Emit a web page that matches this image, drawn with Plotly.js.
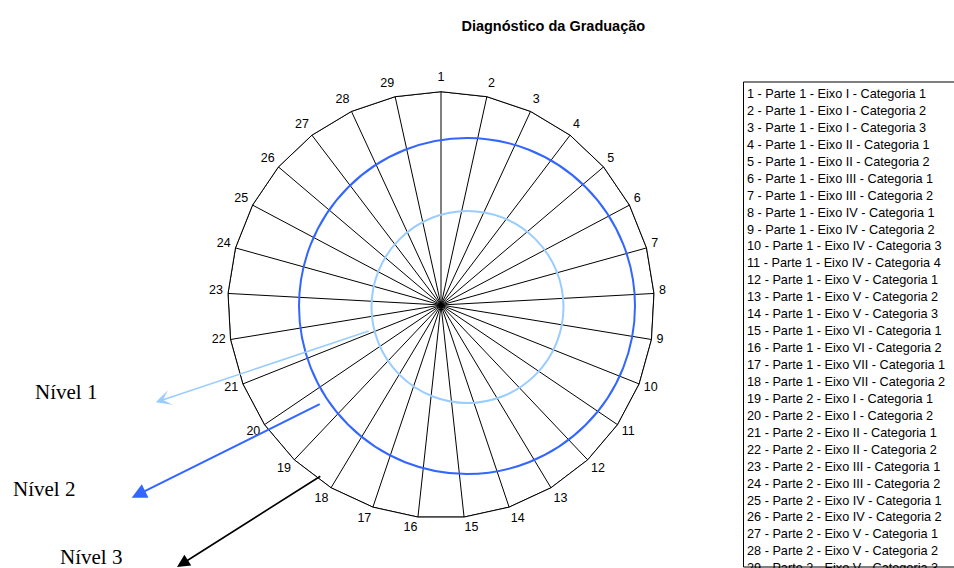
<!DOCTYPE html>
<html>
<head>
<meta charset="utf-8">
<script src="https://cdn.plot.ly/plotly-3.0.1.min.js"></script>
<style>html,body{margin:0;padding:0;background:#fff;}#chart{width:954px;height:568px;}</style>
</head>
<body>
<div id="chart"></div>
<script>
const categories = ['1','2','3','4','5','6','7','8','9','10','11','12','13','14','15','16','17','18','19','20','21','22','23','24','25','26','27','28','29'];
const level3Values = [3,3,3,3,3,3,3,3,3,3,3,3,3,3,3,3,3,3,3,3,3,3,3,3,3,3,3,3,3];
const legendLabels = [
  '1 - Parte 1 - Eixo I - Categoria 1',
  '2 - Parte 1 - Eixo I - Categoria 2',
  '3 - Parte 1 - Eixo I - Categoria 3',
  '4 - Parte 1 - Eixo II - Categoria 1',
  '5 - Parte 1 - Eixo II - Categoria 2',
  '6 - Parte 1 - Eixo III - Categoria 1',
  '7 - Parte 1 - Eixo III - Categoria 2',
  '8 - Parte 1 - Eixo IV - Categoria 1',
  '9 - Parte 1 - Eixo IV - Categoria 2',
  '10 - Parte 1 - Eixo IV - Categoria 3',
  '11 - Parte 1 - Eixo IV - Categoria 4',
  '12 - Parte 1 - Eixo V - Categoria 1',
  '13 - Parte 1 - Eixo V - Categoria 2',
  '14 - Parte 1 - Eixo V - Categoria 3',
  '15 - Parte 1 - Eixo VI - Categoria 1',
  '16 - Parte 1 - Eixo VI - Categoria 2',
  '17 - Parte 1 - Eixo VII - Categoria 1',
  '18 - Parte 1 - Eixo VII - Categoria 2',
  '19 - Parte 2 - Eixo I - Categoria 1',
  '20 - Parte 2 - Eixo I - Categoria 2',
  '21 - Parte 2 - Eixo II - Categoria 1',
  '22 - Parte 2 - Eixo II - Categoria 2',
  '23 - Parte 2 - Eixo III - Categoria 1',
  '24 - Parte 2 - Eixo III - Categoria 2',
  '25 - Parte 2 - Eixo IV - Categoria 1',
  '26 - Parte 2 - Eixo IV - Categoria 2',
  '27 - Parte 2 - Eixo V - Categoria 1',
  '28 - Parte 2 - Eixo V - Categoria 2',
  '29 - Parte 2 - Eixo V - Categoria 3'
];
const levelLabels = ['Nível 1', 'Nível 2', 'Nível 3'];

const W = 954, H = 568;
const px = x => x / W;
const py = y => (H - y) / H;

// polar geometry (pixels)
const cx = 441, cy = 305, R = 213.3, labelLift = 3.5;

const closedR = level3Values.concat([level3Values[0]]);
const closedTheta = categories.concat([categories[0]]);

const traces = [{
  type: 'scatterpolar', subplot: 'polar',
  r: closedR, theta: closedTheta,
  mode: 'lines', line: {color: '#000000', width: 1},
  cliponaxis: false, hoverinfo: 'skip', showlegend: false
}, {
  // carries the category tick labels
  type: 'scatterpolar', subplot: 'polar2',
  r: closedR, theta: closedTheta,
  mode: 'lines', line: {color: 'rgba(0,0,0,0)', width: 0},
  hoverinfo: 'skip', showlegend: false
}];

const annotations = [];
const sans = 'Arial, "Liberation Sans", sans-serif';
const serif = '"Times New Roman", "Liberation Serif", serif';

// legend entries
const rowBase = 98.3, rowStep = 16.94, legFont = 12.7;
legendLabels.forEach((t, i) => {
  annotations.push({
    xref: 'paper', yref: 'paper', x: px(746), y: py(rowBase + i * rowStep - 0.34 * legFont),
    xanchor: 'left', yanchor: 'middle', showarrow: false, text: t,
    font: {family: sans, size: legFont, color: '#000'}, borderpad: 0
  });
});

// level labels
const levelPos = [[34, 399.3], [11.7, 495.7], [59.3, 564.5]];
levelLabels.forEach((t, i) => {
  annotations.push({
    xref: 'paper', yref: 'paper', x: px(levelPos[i][0]), y: py(levelPos[i][1] - 0.3375 * 21),
    xanchor: 'left', yanchor: 'middle', showarrow: false, text: t,
    font: {family: serif, size: 21, color: '#000'}, borderpad: 0
  });
});

// arrows
const arrows = [
  {tail: [371.7, 330], tip: [155.7, 402.3], color: '#99CCFF', head: 3, w: 1.6, s: 1.6},
  {tail: [322.7, 402.7], tip: [131.7, 497.7], color: '#3366FF', head: 2, w: 2, s: 1.5},
  {tail: [323.3, 474.3], tip: [177, 569], color: '#000000', head: 2, w: 1.6, s: 1.6}
];
arrows.forEach(a => {
  annotations.push({
    xref: 'paper', yref: 'paper', x: px(a.tip[0]), y: py(a.tip[1]),
    ax: a.tail[0] - a.tip[0], ay: a.tail[1] - a.tip[1],
    showarrow: true, arrowhead: a.head, arrowcolor: a.color, arrowwidth: a.w, arrowsize: a.s,
    standoff: 0, startstandoff: 0
  });
});

const shapes = [
  {type: 'circle', xref: 'paper', yref: 'paper', x0: px(467.5 - 96), x1: px(467.5 + 96), y0: py(307 + 96), y1: py(307 - 96),
   line: {color: '#99CCFF', width: 2}, fillcolor: 'rgba(0,0,0,0)', layer: 'above'},
  {type: 'circle', xref: 'paper', yref: 'paper', x0: px(467 - 168), x1: px(467 + 168), y0: py(306 + 168), y1: py(306 - 168),
   line: {color: '#3366FF', width: 2}, fillcolor: 'rgba(0,0,0,0)', layer: 'above'},
  {type: 'rect', xref: 'paper', yref: 'paper', x0: px(743.5), x1: 1.02, y0: py(567), y1: py(82),
   line: {color: '#000', width: 1}, fillcolor: 'rgba(0,0,0,0)', layer: 'above'}
];

const angularCommon = {
  type: 'category', categoryarray: categories, direction: 'clockwise', rotation: 90,
  tickfont: {family: sans, size: 12.5, color: '#000'}
};

const layout = {
  width: W, height: H,
  margin: {l: 0, r: 0, t: 0, b: 0},
  paper_bgcolor: '#fff',
  showlegend: false,
  title: {
    text: '<b>Diagnóstico da Graduação</b>',
    font: {family: sans, size: 14.5, color: '#000'},
    x: px(553.3), xanchor: 'center', xref: 'paper',
    y: py(25.5), yanchor: 'middle', yref: 'container'
  },
  polar: {
    domain: {x: [px(cx - R), px(cx + R)], y: [py(cy + R), py(cy - R)]},
    bgcolor: '#fff',
    gridshape: 'linear',
    radialaxis: {visible: false, range: [0, 3], showgrid: false},
    angularaxis: Object.assign({}, angularCommon, {
      showline: true, linecolor: '#000', linewidth: 1,
      ticks: '', showticklabels: false,
      showgrid: true, gridcolor: '#000', gridwidth: 1
    })
  },
  polar2: {
    domain: {x: [px(cx - R), px(cx + R)], y: [py(cy - labelLift + R), py(cy - labelLift - R)]},
    bgcolor: 'rgba(0,0,0,0)',
    gridshape: 'linear',
    radialaxis: {visible: false, range: [0, 3], showgrid: false},
    angularaxis: Object.assign({}, angularCommon, {
      showline: false, showgrid: false,
      ticks: 'outside', ticklen: 2, tickcolor: 'rgba(0,0,0,0)'
    })
  },
  annotations: annotations,
  shapes: shapes
};

Plotly.newPlot('chart', traces, layout, {displayModeBar: false, staticPlot: true});
</script>
</body>
</html>
